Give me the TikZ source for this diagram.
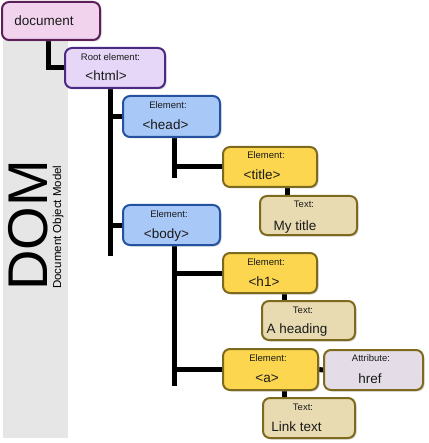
\documentclass[tikz,border=0pt]{standalone}
\usepackage{fontspec}
\setmainfont{Liberation Sans}
\usetikzlibrary{shadows,calc}
\definecolor{docfill}{HTML}{F2D3EE}
\definecolor{docdraw}{HTML}{5C1F57}
\definecolor{htmlfill}{HTML}{E6D7F8}
\definecolor{htmldraw}{HTML}{4A2A82}
\definecolor{bluefill}{HTML}{A8C9F7}
\definecolor{bluedraw}{HTML}{2452A0}
\definecolor{yelfill}{HTML}{FCD64F}
\definecolor{oliv}{HTML}{7D6A1E}
\definecolor{txtfill}{HTML}{E8DBB1}
\definecolor{attrfill}{HTML}{E4DDE8}
\definecolor{barfill}{HTML}{E6E6E6}
\definecolor{ink}{HTML}{1A1A1A}
\pgfdeclarelayer{bg}
\pgfdeclarelayer{lines}
\pgfsetlayers{bg,lines,main}
\tikzset{
  box/.style={rectangle, rounded corners=7pt, line width=2pt, inner sep=0pt,
    drop shadow={shadow xshift=1.5pt, shadow yshift=-1.5pt, fill=black!35, opacity=0.45}},
  docbox/.style={box, fill=docfill, draw=docdraw},
  htmlbox/.style={box, fill=htmlfill, draw=htmldraw},
  bluebox/.style={box, fill=bluefill, draw=bluedraw},
  elbox/.style={box, fill=yelfill, draw=oliv},
  txtbox/.style={box, fill=txtfill, draw=oliv},
  attrbox/.style={box, fill=attrfill, draw=oliv},
  small/.style={anchor=base, inner sep=0pt, text=ink, font=\fontsize{9.5}{11}\selectfont},
  big/.style={anchor=base, inner sep=0pt, text=ink, font=\fontsize{13.5}{16}\selectfont},
  conn/.style={line width=5pt, draw=black},
}
\begin{document}
\begin{tikzpicture}[x=1pt, y=-1pt]
\useasboundingbox (0,0) rectangle (428,443);
\begin{pgfonlayer}{bg}
  \fill[barfill] (3,40) rectangle (68,438);
\end{pgfonlayer}
\node[rotate=90, anchor=base west, inner sep=0pt, text=black, font=\fontsize{56}{60}\selectfont] (dom) at (47,291) {DOM};
\node[rotate=90, anchor=base west, inner sep=0pt, text=black, font=\fontsize{11.5}{13}\selectfont] (domsub) at (61,289) {Document Object Model};

% boxes
\node[docbox, minimum width=98pt, minimum height=38pt] (doc) at (51,21) {};
\node[htmlbox, minimum width=100pt, minimum height=40pt] (html) at (115,68) {};
\node[bluebox, minimum width=97pt, minimum height=41pt] (head) at (171.5,116.5) {};
\node[elbox, minimum width=94pt, minimum height=40pt] (title) at (270,167) {};
\node[txtbox, minimum width=97pt, minimum height=39pt] (mytitle) at (308.5,215.5) {};
\node[bluebox, minimum width=97pt, minimum height=40pt] (body) at (171.5,225) {};
\node[elbox, minimum width=94pt, minimum height=40pt] (h1) at (270,273) {};
\node[txtbox, minimum width=93pt, minimum height=39pt] (heading) at (308.5,320.5) {};
\node[elbox, minimum width=95pt, minimum height=41pt] (a) at (270.5,369.5) {};
\node[attrbox, minimum width=99pt, minimum height=40pt] (attr) at (373.5,370) {};
\node[txtbox, minimum width=92pt, minimum height=40pt] (link) at (309,418) {};

% texts
\node[big] (tdoc) at (44,26) {document};
\node[small] (shtml) at (110.5,61) {Root element:};
\node[big] (thtml) at (106,81) {<html>};
\node[small] (shead) at (168,108.5) {Element:};
\node[big] (thead) at (165.5,129.5) {<head>};
\node[small] (stitle) at (266,159) {Element:};
\node[big] (ttitle) at (262,180) {<title>};
\node[small] (smytitle) at (304,207.5) {Text:};
\node[big] (tmytitle) at (295,230) {My title};
\node[small] (sbody) at (169,217) {Element:};
\node[big] (tbody) at (166.5,238) {<body>};
\node[small] (sh1) at (266,265) {Element:};
\node[big] (th1) at (264,286) {<h1>};
\node[small] (sheading) at (303,313) {Text:};
\node[big] (theading) at (297,333.5) {A heading};
\node[small] (sa) at (268,361) {Element:};
\node[big] (ta) at (267,382) {<a>};
\node[small] (sattr) at (371,361.5) {Attribute:};
\node[big] (tattr) at (370,383) {href};
\node[small] (slink) at (303,410) {Text:};
\node[big] (tlink) at (296.5,431) {Link text};

% connectors
\begin{pgfonlayer}{lines}
  \draw[conn] ([xshift=-3pt]doc.south) |- (html.west);
  \draw[conn] ([xshift=-5pt]html.south) -- ++(0,167) coordinate (htmlend);
  \draw[conn] (head.west) -- (head.west -| htmlend);
  \draw[conn] (body.west) -- (body.west -| htmlend);
  \draw[conn] ([xshift=2.5pt]head.south) -- ++(0,40) coordinate (headend);
  \draw[conn] (title.west) -- (title.west -| headend);
  \draw[conn] ([xshift=2.5pt]body.south) -- ++(0,140) coordinate (bodyend);
  \draw[conn] (h1.west) -- (h1.west -| bodyend);
  \draw[conn] (a.west) -- (a.west -| bodyend);
  \draw[conn] ([xshift=17pt]title.south) -- ([xshift=-21.5pt]mytitle.north);
  \draw[conn] ([xshift=14pt]h1.south) -- ([xshift=-24.5pt]heading.north);
  \draw[conn] ([xshift=13.5pt]a.south) -- ([xshift=-25pt]link.north);
  \draw[conn] (a.east) -- (attr.west);
\end{pgfonlayer}
\end{tikzpicture}
\end{document}
